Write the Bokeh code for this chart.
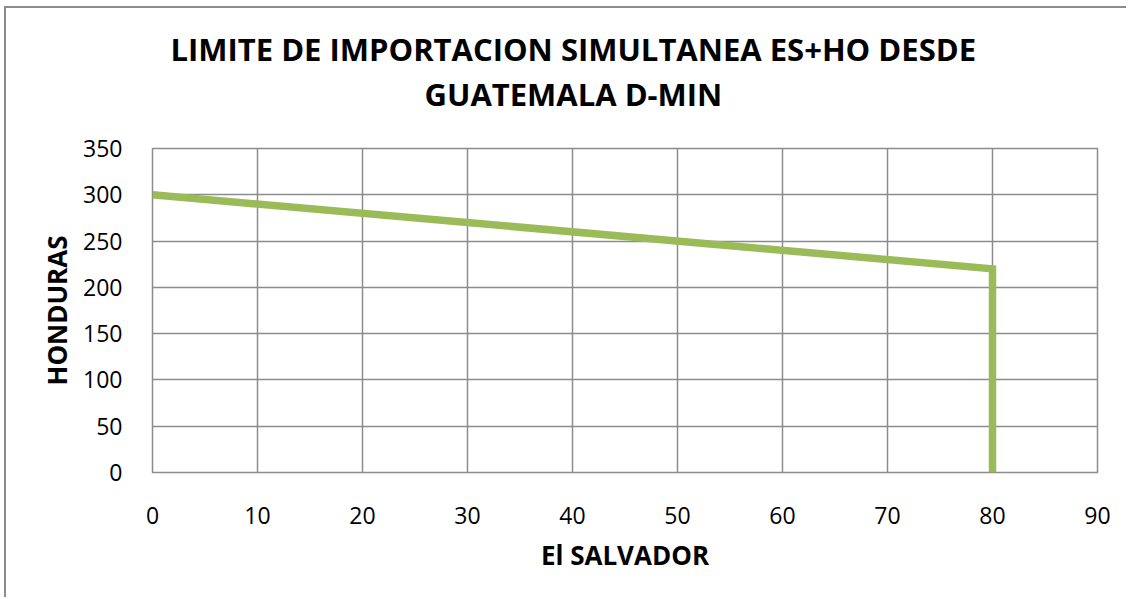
from bokeh.plotting import figure
from bokeh.models import FixedTicker, Range1d, Title
from bokeh.embed import file_html
from bokeh.resources import INLINE

# data
el_salvador = [0, 80, 80]
honduras = [300, 220, 0]
x_ticks = [0, 10, 20, 30, 40, 50, 60, 70, 80, 90]
y_ticks = [0, 50, 100, 150, 200, 250, 300, 350]
title_lines = ["LIMITE DE IMPORTACION SIMULTANEA ES+HO DESDE", "GUATEMALA D-MIN"]

FONT = "Open Sans"
GRID = "#8c8c8c"

p = figure(width=1122, height=591, output_backend="svg", toolbar_location=None,
           x_range=Range1d(0, 90), y_range=Range1d(0, 350),
           min_border_left=146, min_border_right=31, min_border_top=140, min_border_bottom=127)
p.styles = {"border-left": "2px solid #8c8c8c", "border-top": "2px solid #8c8c8c",
            "margin-left": "4px", "margin-top": "6px"}

p.line(el_salvador, honduras, line_color="#9BBB59", line_width=7.5, line_join="miter")

# title lines, stacked above the plot (nearest first)
for t, off, so in zip(reversed(title_lines), [272, 18], [68, -67]):
    p.add_layout(Title(text=t, align="left", offset=off, standoff=so, text_font=FONT,
                       text_font_size="31px", text_font_style="bold", text_color="black"),
                 "above")

p.xaxis.ticker = FixedTicker(ticks=x_ticks)
p.yaxis.ticker = FixedTicker(ticks=y_ticks)
for ax in (p.xaxis[0], p.yaxis[0]):
    ax.axis_line_color = None
    ax.major_tick_line_color = None
    ax.minor_tick_line_color = None
    ax.major_label_text_font = FONT
    ax.major_label_text_font_size = "23px"
    ax.major_label_text_color = "black"
    ax.axis_label_text_font = FONT
    ax.axis_label_text_font_size = "26px"
    ax.axis_label_text_font_style = "bold"
    ax.axis_label_text_color = "black"
p.xaxis.axis_label = "El SALVADOR"
p.yaxis.axis_label = "HONDURAS"
p.xaxis.major_label_standoff = 28
p.yaxis.major_label_standoff = 24
p.xaxis.axis_label_standoff = 10
p.yaxis.axis_label_standoff = 5

p.xgrid.grid_line_color = GRID
p.ygrid.grid_line_color = GRID
p.xgrid.grid_line_width = 1.5
p.ygrid.grid_line_width = 1.5
p.outline_line_color = GRID
p.outline_line_width = 1.5
p.background_fill_color = "white"
p.border_fill_color = "white"

open("out.html", "w").write(file_html(p, INLINE))
